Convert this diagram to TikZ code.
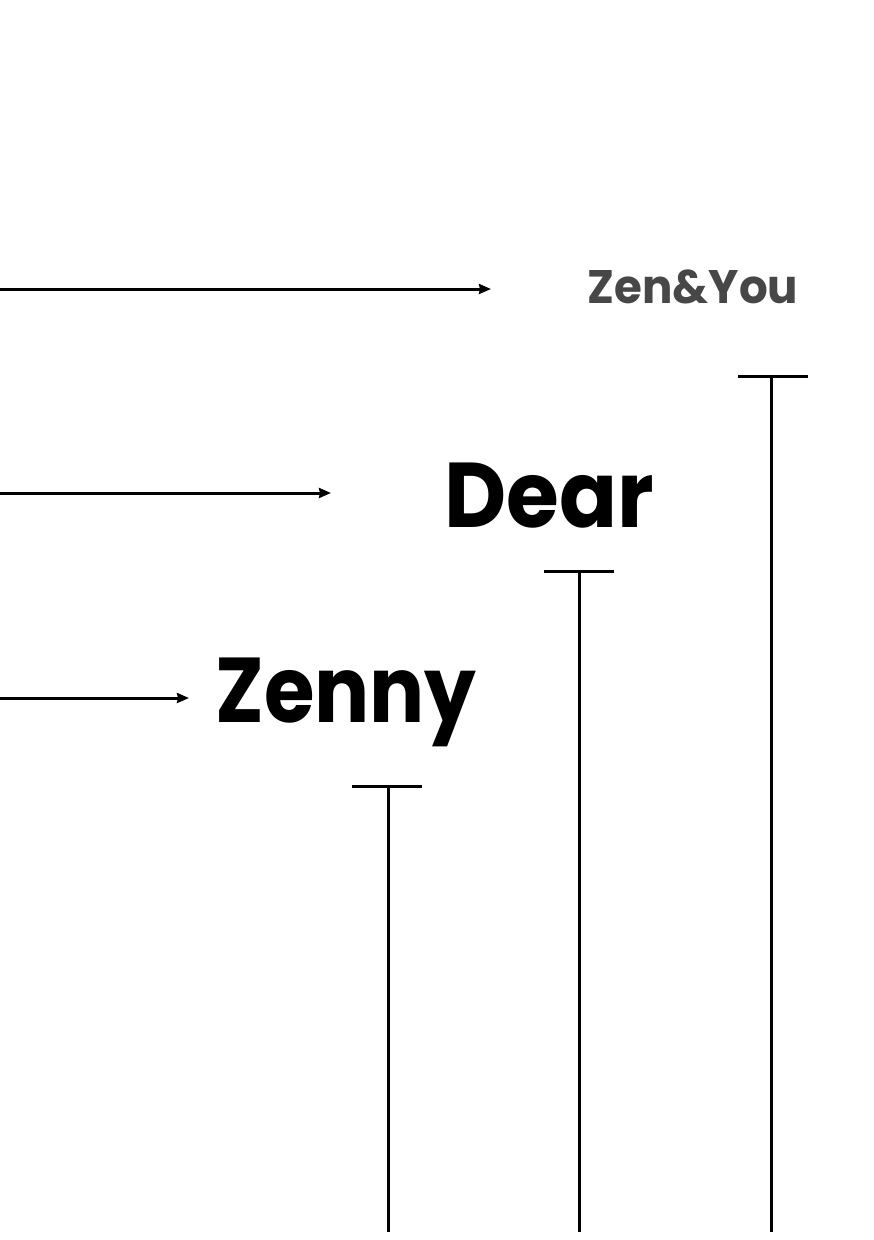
\documentclass[tikz,border=0pt]{standalone}
\usepackage{fontspec}
\setmainfont{Poppins}
\usetikzlibrary{arrows.meta}
\tikzset{
  conn/.style={line width=3pt, -{Stealth[length=12pt,width=10pt,inset=1pt]}},
  bar/.style={line width=3pt},
  lbl/.style={anchor=base, inner sep=0pt, font=\bfseries},
}
\begin{document}
\begin{tikzpicture}[x=1pt,y=-1pt]
\useasboundingbox (0,0) rectangle (874,1240);
% labels
\node[lbl, text=black!72, font=\fontsize{47}{47}\selectfont\bfseries] (zy) at (693,303) {\scalebox{0.96}[1]{Zen\&You}};
\node[lbl, font=\fontsize{92}{92}\selectfont\bfseries] (dear) at (549,527) {\scalebox{0.93}[1]{Dear}};
\node[lbl, font=\fontsize{92}{92}\selectfont\bfseries] (zenny) at (346,722) {\scalebox{0.89}[1]{Zenny}};
% arrows
\coordinate (a1s) at (0,289); \coordinate (a1e) at (491,289);
\coordinate (a2s) at (0,493); \coordinate (a2e) at (331,493);
\coordinate (a3s) at (0,698); \coordinate (a3e) at (189,698);
\draw[conn] (a1s) -- (a1e);
\draw[conn] (a2s) -- (a2e);
\draw[conn] (a3s) -- (a3e);
% T bars
\coordinate (t1l) at (738,376); \coordinate (t1r) at (808,376);
\coordinate (t1t) at (771,376); \coordinate (t1b) at (771,1232);
\coordinate (t2l) at (544,571); \coordinate (t2r) at (614,571);
\coordinate (t2t) at (579,571); \coordinate (t2b) at (579,1232);
\coordinate (t3l) at (352,786); \coordinate (t3r) at (422,786);
\coordinate (t3t) at (388,786); \coordinate (t3b) at (388,1232);
\draw[bar] (t1l) -- (t1r); \draw[bar] (t1t) -- (t1b);
\draw[bar] (t2l) -- (t2r); \draw[bar] (t2t) -- (t2b);
\draw[bar] (t3l) -- (t3r); \draw[bar] (t3t) -- (t3b);
\end{tikzpicture}
\end{document}
